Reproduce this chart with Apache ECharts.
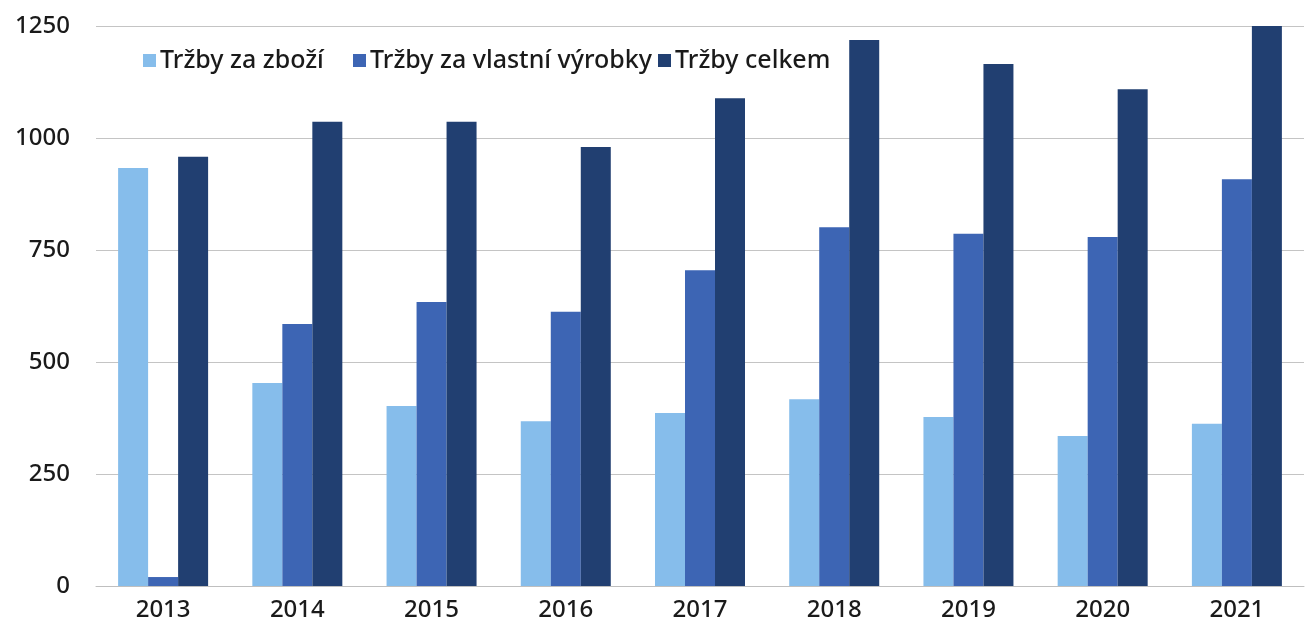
<!DOCTYPE html>
<html>
<head>
<meta charset="utf-8">
<script src="https://cdn.jsdelivr.net/npm/echarts@6/dist/echarts.min.js"></script>
<style>
  html, body { margin: 0; padding: 0; background: #fff; }
  #chart { width: 1305px; height: 629px; }
</style>
</head>
<body>
<div id="chart"></div>
<script>
const years = ['2013', '2014', '2015', '2016', '2017', '2018', '2019', '2020', '2021']
const seriesNames = ['Tržby za zboží', 'Tržby za vlastní výrobky', 'Tržby celkem']
const trzbyZbozi = [933, 453, 402, 368, 386, 417, 377, 335, 362]
const trzbyVyrobky = [20, 585, 634, 612, 705, 801, 786, 779, 908]
const trzbyCelkem = [958, 1036, 1036, 980, 1089, 1219, 1165, 1109, 1252]
const colors = ['#86bdeb', '#3d65b4', '#213f71']

const font = '"Noto Sans", sans-serif'
const chart = echarts.init(document.getElementById('chart'))

const legendLeft = [138, 348, 653]
const legends = seriesNames.map((name, i) => ({
  data: [name],
  left: legendLeft[i],
  top: 43,
  icon: 'rect',
  itemWidth: 13,
  itemHeight: 13,
  itemGap: 0,
  textStyle: { fontSize: 25, fontWeight: 500, color: '#1a1a1a', fontFamily: font, padding: [0, 0, 0, -1] }
}))

const option = {
  animation: false,
  color: colors,
  legend: legends,
  grid: { left: 96, right: 1, top: 26, bottom: 43 },
  xAxis: {
    type: 'category',
    data: years,
    axisLine: { lineStyle: { color: '#bfbfbf' } },
    axisTick: { show: false },
    axisLabel: { fontSize: 24, fontWeight: 500, color: '#1a1a1a', fontFamily: font, margin: 12 }
  },
  yAxis: {
    type: 'value',
    min: 0,
    max: 1250,
    interval: 250,
    axisLine: { show: false },
    axisTick: { show: false },
    splitLine: { lineStyle: { color: '#c4c4c4' } },
    axisLabel: { fontSize: 24, fontWeight: 500, color: '#1a1a1a', fontFamily: font, margin: 26, formatter: v => String(v) }
  },
  series: [trzbyZbozi, trzbyVyrobky, trzbyCelkem].map((d, i) => ({
    name: seriesNames[i],
    type: 'bar',
    data: d,
    barWidth: 30,
    barGap: '0%'
  }))
}

chart.setOption(option)
</script>
</body>
</html>
